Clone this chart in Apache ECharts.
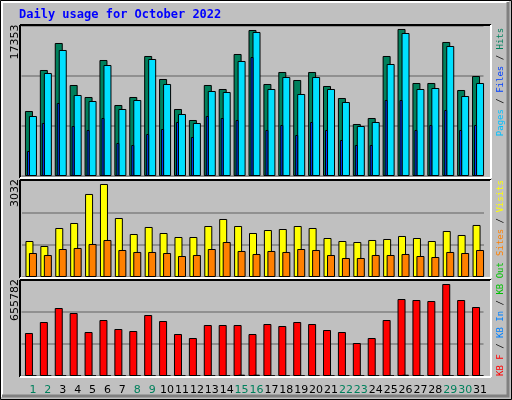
<!DOCTYPE html>
<html>
<head>
<meta charset="utf-8">
<script src="https://cdn.jsdelivr.net/npm/echarts@6/dist/echarts.min.js"></script>
<style>
  body { margin: 0; background: #c0c0c0; }
  #chart { width: 512px; height: 400px; }
</style>
</head>
<body>
<div id="chart"></div>
<script>
// days of October 2022, weekends drawn in green
const days = Array.from({ length: 31 }, (_, i) => String(i + 1));
const weekend = ['1', '2', '8', '9', '15', '16', '22', '23', '29', '30'];

const hits = [7520, 12264, 15388, 10529, 9140, 13421, 8215, 9140, 13884, 11223, 7752, 6479, 10529, 10066, 14115, 16892,
  10644, 12033, 11107, 12033, 10413, 9025, 6016, 6711, 13884, 17008, 10760, 10760, 15504, 9950, 11570];
const files = [6942, 11917, 14578, 9372, 8678, 12843, 7752, 8793, 13537, 10644, 7173, 6132, 9834, 9719, 13305, 16661,
  10066, 11454, 9487, 11454, 10066, 8562, 5785, 6248, 12958, 16545, 10066, 10181, 15041, 9256, 10760];
const pages = [2893, 6132, 8446, 5785, 5322, 6711, 3818, 3587, 4859, 5438, 6248, 4512, 6942, 6711, 6479, 13768,
  5322, 5901, 4744, 6248, 5322, 4165, 3587, 3587, 8793, 8793, 5322, 5901, 7636, 5322, 5901];
const visits = [1125, 969, 1532, 1688, 2595, 2907, 1844, 1344, 1563, 1375, 1250, 1250, 1594, 1813, 1594, 1375,
  1469, 1500, 1594, 1532, 1219, 1125, 1094, 1157, 1188, 1282, 1219, 1125, 1438, 1313, 1626];
const sites = [750, 688, 875, 907, 1032, 1157, 844, 782, 782, 750, 656, 688, 875, 1094, 813, 719,
  813, 782, 875, 844, 688, 594, 594, 688, 688, 719, 656, 625, 782, 750, 844];
const kbF = [293733, 368874, 464508, 430353, 300564, 382536, 321057, 307395, 416691, 375705, 286902, 259578, 348381, 348381, 348381, 286902,
  355212, 341550, 368874, 355212, 314226, 300564, 225423, 259578, 382536, 525987, 519156, 512325, 628452, 519156, 471339];
const kbIn = [1500, 1500, 1500, 1500, 1500, 1500, 1500, 1500, 1500, 1500, 1500, 1500, 1500, 1500, 9000, 9000,
  1500, 1500, 1500, 1500, 1500, 1500, 1500, 1500, 1500, 9000, 1500, 1500, 1500, 1500, 1500];

const maxHits = 17353, maxVisits = 3032, maxKB = 655782;

const W = 462;
const panels = [
  { top: 26, height: 150, max: maxHits },
  { top: 180, height: 97, max: maxVisits },
  { top: 280, height: 96, max: maxKB }
];

// every series gets its own grid so the bars can be shifted sideways by a few pixels
const layers = [
  { p: 0, dx: -4, data: hits, color: '#00805c', w: 8, split: true },
  { p: 0, dx: 0, data: files, color: '#00e0ff', w: 8 },
  { p: 0, dx: -4.5, data: pages, color: '#0040ff', w: 3 },
  { p: 1, dx: -3.5, data: visits, color: '#ffff00', w: 8, split: true },
  { p: 1, dx: 0, data: sites, color: '#ff8000', w: 8 },
  { p: 2, dx: -4, data: kbF, color: '#ff0000', w: 8, split: true },
  { p: 2, dx: 0, data: kbIn, color: '#0080ff', w: 7, labels: true }
];

const grid = [], xAxis = [], yAxis = [], series = [];
layers.forEach((l, i) => {
  const p = panels[l.p];
  grid.push({ left: 25.5 + l.dx, top: p.top, width: W, height: p.height });
  xAxis.push({
    type: 'category', data: days, gridIndex: i, z: 0,
    axisLine: { show: false }, axisTick: { show: false },
    axisLabel: {
      show: !!l.labels, interval: 0, hideOverlap: false, margin: 9,
      fontFamily: 'DejaVu Sans', fontSize: 11,
      color: v => weekend.includes(v) ? '#00805c' : '#000'
    }
  });
  yAxis.push({
    type: 'value', gridIndex: i, min: 0, max: p.max, interval: p.max / 3, z: 0,
    axisLabel: { show: false }, axisLine: { show: false }, axisTick: { show: false },
    splitLine: { show: !!l.split, lineStyle: { color: '#808080', width: 1.5 } }
  });
  series.push({
    type: 'bar', xAxisIndex: i, yAxisIndex: i, data: l.data, barWidth: l.w, z: 10 + i,
    itemStyle: { color: l.color, borderColor: '#000', borderWidth: 1 }, silent: true
  });
});

function frame(top, bottom) {
  return [
    { type: 'line', shape: { x1: 20, y1: top, x2: 491, y2: top }, style: { stroke: '#000', lineWidth: 2 }, z: 50 },
    { type: 'line', shape: { x1: 20, y1: top, x2: 20, y2: bottom }, style: { stroke: '#000', lineWidth: 2 }, z: 50 },
    { type: 'line', shape: { x1: 20, y1: bottom, x2: 491, y2: bottom }, style: { stroke: '#fff', lineWidth: 2 }, z: 50 },
    { type: 'line', shape: { x1: 491, y1: top, x2: 491, y2: bottom }, style: { stroke: '#fff', lineWidth: 2 }, z: 50 }
  ];
}

const mono = c => ({ fill: c, fontFamily: 'DejaVu Sans Mono', fontSize: 9 });

function vtext(y, rich, text) {
  return { type: 'text', x: 501, y: y, rotation: Math.PI / 2, z: 60,
    style: { text: text, rich: rich, fontFamily: 'DejaVu Sans Mono', fontSize: 9, fill: '#000', align: 'center', verticalAlign: 'middle' } };
}

function ytext(y, v) {
  return { type: 'text', x: 15, y: y, rotation: Math.PI / 2, z: 60,
    style: { text: String(v), fontFamily: 'DejaVu Sans', fontSize: 11, fill: '#000', align: 'center', verticalAlign: 'middle' } };
}

const graphic = [
  { type: 'rect', shape: { x: 0.5, y: 0.5, width: 511, height: 399 }, style: { fill: 'none', stroke: '#000', lineWidth: 1 }, z: 40 },
  { type: 'polyline', shape: { points: [[2, 397], [2, 2], [509, 2]] }, style: { fill: 'none', stroke: '#fff', lineWidth: 2 }, z: 40 },
  { type: 'polyline', shape: { points: [[2, 396], [508, 396], [508, 2]] }, style: { fill: 'none', stroke: '#808080', lineWidth: 3 }, z: 40 },
  { type: 'text', x: 19, y: 15, z: 60, style: { text: 'Daily usage for October 2022', fill: '#0000ff', fontFamily: 'DejaVu Sans Mono', fontWeight: 'bold', fontSize: 12, verticalAlign: 'middle' } },
  ...frame(25, 178), ...frame(180, 278), ...frame(280, 377),
  vtext(82, { p: mono('#00c0ff'), f: mono('#0040ff'), h: mono('#00805c'), s: mono('#000') },
    '{p|Pages}{s| / }{f|Files}{s| / }{h|Hits}'),
  vtext(218, { s1: mono('#ff8000'), v: mono('#ffff00'), s: mono('#000') },
    '{s1|Sites}{s| / }{v|Visits}'),
  vtext(319, { f: mono('#ff0000'), i: mono('#0080ff'), o: mono('#00c000'), s: mono('#000') },
    '{f|KB F}{s| / }{i|KB In}{s| / }{o|KB Out}'),
  ytext(42, maxHits), ytext(193, maxVisits), ytext(300, maxKB)
];

const chart = echarts.init(document.getElementById('chart'), null, { renderer: 'canvas' });
chart.setOption({
  backgroundColor: '#c0c0c0',
  animation: false,
  grid, xAxis, yAxis, series, graphic
});
</script>
</body>
</html>
